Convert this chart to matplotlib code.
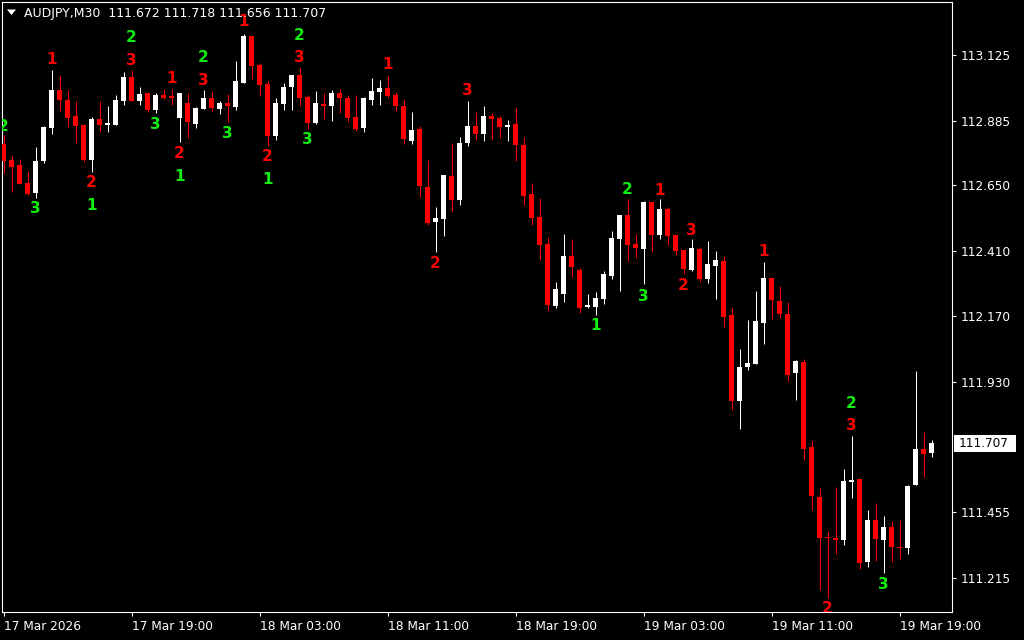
import numpy as np
import matplotlib.pyplot as plt
from matplotlib.patches import Rectangle, Polygon
from matplotlib.transforms import IdentityTransform

# AUDJPY M30, 117 bars
opens = [112.799, 112.741, 112.722, 112.657, 112.621, 112.738, 112.859, 112.996, 112.960, 112.901,
         112.869, 112.741, 112.890, 112.869, 112.869, 112.956, 113.044, 112.956, 112.985, 112.923,
         112.978, 112.974, 112.895, 112.949, 112.873, 112.928, 112.967, 112.927, 112.949, 112.934,
         113.022, 113.194, 113.088, 113.018, 112.828, 112.945, 113.007, 113.051, 112.971, 112.876,
         112.945, 112.938, 112.985, 112.967, 112.898, 112.858, 112.960, 112.989, 113.004, 112.978,
         112.938, 112.810, 112.854, 112.642, 112.514, 112.525, 112.682, 112.595, 112.803, 112.865,
         112.836, 112.901, 112.894, 112.862, 112.872, 112.795, 112.617, 112.533, 112.434, 112.207,
         112.251, 112.390, 112.339, 112.204, 112.204, 112.233, 112.317, 112.452, 112.540, 112.434,
         112.416, 112.587, 112.467, 112.562, 112.467, 112.412, 112.339, 112.416, 112.306, 112.354,
         112.372, 112.175, 111.861, 111.985, 111.996, 112.145, 112.310, 112.226, 112.178, 111.963,
         112.003, 111.693, 111.510, 111.364, 111.360, 111.353, 111.565, 111.576, 111.273, 111.426,
         111.353, 111.400, 111.327, 111.324, 111.554, 111.685, 111.672]
highs = [112.832, 112.755, 112.744, 112.701, 112.788, 112.865, 113.069, 113.047, 112.996, 112.956,
         112.872, 112.898, 112.956, 112.938, 112.978, 113.062, 113.069, 113.007, 112.985, 112.985,
         113.000, 113.000, 112.985, 112.985, 112.934, 112.996, 112.993, 112.956, 112.982, 113.102,
         113.201, 113.194, 113.094, 113.029, 112.967, 113.022, 113.051, 113.077, 112.978, 112.993,
         112.985, 112.996, 113.000, 112.978, 112.978, 112.971, 113.040, 113.033, 113.047, 112.989,
         112.960, 112.916, 112.865, 112.741, 112.569, 112.686, 112.803, 112.825, 112.956, 112.916,
         112.938, 112.912, 112.901, 112.887, 112.931, 112.825, 112.657, 112.602, 112.460, 112.295,
         112.470, 112.452, 112.346, 112.251, 112.259, 112.335, 112.481, 112.540, 112.598, 112.470,
         112.591, 112.587, 112.598, 112.569, 112.467, 112.412, 112.452, 112.423, 112.445, 112.408,
         112.390, 112.200, 112.050, 112.156, 112.262, 112.368, 112.310, 112.280, 112.222, 112.010,
         112.014, 111.718, 111.543, 111.386, 111.546, 111.612, 111.733, 111.576, 111.463, 111.488,
         111.441, 111.422, 111.426, 111.554, 111.970, 111.747, 111.718]
lows = [112.694, 112.625, 112.653, 112.613, 112.603, 112.731, 112.837, 112.921, 112.862, 112.804,
        112.734, 112.698, 112.844, 112.844, 112.869, 112.942, 112.956, 112.942, 112.916, 112.912,
        112.963, 112.942, 112.808, 112.822, 112.859, 112.928, 112.920, 112.909, 112.881, 112.923,
        113.022, 113.037, 112.974, 112.792, 112.814, 112.923, 112.923, 112.938, 112.854, 112.872,
        112.890, 112.883, 112.912, 112.879, 112.847, 112.843, 112.942, 112.942, 112.967, 112.920,
        112.799, 112.799, 112.606, 112.503, 112.405, 112.463, 112.554, 112.576, 112.792, 112.814,
        112.810, 112.817, 112.821, 112.810, 112.737, 112.576, 112.503, 112.376, 112.189, 112.200,
        112.222, 112.313, 112.182, 112.200, 112.175, 112.215, 112.306, 112.262, 112.372, 112.383,
        112.288, 112.405, 112.452, 112.430, 112.394, 112.324, 112.335, 112.295, 112.291, 112.233,
        112.131, 111.828, 111.758, 111.974, 111.996, 112.069, 112.160, 112.164, 111.934, 111.864,
        111.645, 111.463, 111.170, 111.141, 111.302, 111.335, 111.506, 111.247, 111.254, 111.276,
        111.232, 111.273, 111.284, 111.302, 111.554, 111.583, 111.656]
closes = [112.738, 112.716, 112.654, 112.618, 112.737, 112.860, 112.996, 112.960, 112.895, 112.866,
          112.741, 112.890, 112.869, 112.875, 112.960, 113.044, 112.956, 112.982, 112.923, 112.978,
          112.968, 112.967, 112.985, 112.881, 112.931, 112.967, 112.931, 112.949, 112.938, 113.029,
          113.194, 113.085, 113.015, 112.828, 112.949, 113.007, 113.051, 112.967, 112.876, 112.949,
          112.938, 112.985, 112.967, 112.894, 112.854, 112.967, 112.993, 113.004, 112.974, 112.938,
          112.817, 112.850, 112.646, 112.511, 112.529, 112.686, 112.595, 112.803, 112.865, 112.836,
          112.901, 112.890, 112.861, 112.869, 112.795, 112.609, 112.529, 112.430, 112.211, 112.270,
          112.390, 112.350, 112.200, 112.211, 112.237, 112.324, 112.456, 112.540, 112.430, 112.419,
          112.587, 112.467, 112.562, 112.463, 112.408, 112.343, 112.419, 112.306, 112.361, 112.376,
          112.167, 111.861, 111.985, 111.999, 112.153, 112.310, 112.229, 112.178, 111.955, 112.007,
          111.685, 111.514, 111.360, 111.360, 111.353, 111.568, 111.572, 111.269, 111.426, 111.357,
          111.400, 111.327, 111.324, 111.550, 111.685, 111.667, 111.707]

# indicator numbers (bar index, price, text, colour)
sig_bar = [0, 4, 6, 11, 11, 16, 16, 19, 21, 22, 22, 25, 25, 28, 30, 33, 33, 37, 37, 38,
           48, 54, 58, 74, 78, 80, 82, 85, 86, 95, 103, 106, 106, 110]
sig_price = [112.865, 112.562, 113.108, 112.657, 112.576, 113.189, 113.106, 112.872, 113.039, 112.765,
             112.682, 113.116, 113.030, 112.838, 113.245, 112.753, 112.668, 113.197, 113.116, 112.814,
             113.088, 112.363, 112.996, 112.138, 112.633, 112.244, 112.631, 112.281, 112.485, 112.406,
             111.103, 111.852, 111.773, 111.189]
sig_text = ['2', '3', '1', '2', '1', '2', '3', '3', '1', '2', '1', '2', '3', '3', '1', '2', '1', '2', '3', '3',
            '1', '2', '3', '1', '2', '3', '1', '2', '3', '1', '2', '2', '3', '3']
sig_color = ['g', 'g', 'r', 'r', 'g', 'g', 'r', 'g', 'r', 'r', 'g', 'g', 'r', 'g', 'r', 'r', 'g', 'g', 'r', 'g',
             'r', 'r', 'r', 'g', 'g', 'g', 'r', 'r', 'r', 'r', 'r', 'g', 'r', 'g']

time_pos = [0, 16, 32, 48, 64, 80, 96, 112]
time_labels = ["17 Mar 2026", "17 Mar 19:00", "18 Mar 03:00", "18 Mar 11:00",
               "18 Mar 19:00", "19 Mar 03:00", "19 Mar 11:00", "19 Mar 19:00"]
price_ticks = [113.125, 112.885, 112.650, 112.410, 112.170, 111.930, 111.455, 111.215]

o = np.array(opens)
h = np.array(highs)
l = np.array(lows)
c = np.array(closes)
x = np.arange(len(o))
cols = np.where(c >= o, 'white', '#ff0000')

W, H = 1024, 640
fig = plt.figure(figsize=(W / 100, H / 100), dpi=100, facecolor='black')
ax = fig.add_axes([2 / W, 28 / H, 950 / W, 610 / H])
ax.set_facecolor('black')

ax.vlines(x, l, h, colors=cols, lw=0.75, zorder=2)
body_lo = np.minimum(o, c)
body_h = np.maximum(np.abs(c - o), 0.004)
ax.bar(x, body_h, bottom=body_lo, width=0.62, color=cols, linewidth=0, zorder=3)

gmap = {'g': '#11ee11', 'r': '#ff0000'}
for b, p, t, k in zip(sig_bar, sig_price, sig_text, sig_color):
    ax.text(b, p, t, color=gmap[k], fontsize=11, fontweight='bold', family='DejaVu Sans',
            ha='center', va='center', zorder=4, clip_on=True)

ax.set_xlim(-0.1875, 118.5625)
ax.set_ylim(111.090, 113.318)

for s in ax.spines.values():
    s.set_color('white')
    s.set_linewidth(0.8)

ax.yaxis.tick_right()
ax.set_yticks(price_ticks)
ax.set_yticklabels(['%.3f' % v for v in price_ticks])
ax.set_xticks(time_pos)
ax.set_xticklabels(time_labels, ha='left')
ax.tick_params(colors='white', labelcolor='white', labelsize=8.7, length=3, width=0.8, pad=3)

# current price box on the scale
fig.canvas.draw()
yp = ax.transData.transform((0, c[-1]))[1]
fig.patches.append(Rectangle((954, yp - 8.5), 62, 17, transform=IdentityTransform(),
                             facecolor='white', edgecolor='none', zorder=5))
fig.text(959, yp, '%.3f' % c[-1], transform=IdentityTransform(), color='black',
         fontsize=8.7, va='center', ha='left', zorder=6)

# header
fig.patches.append(Polygon([(7, H - 9.5), (16, H - 9.5), (11.5, H - 15)], closed=True,
                           transform=IdentityTransform(), facecolor='white', edgecolor='none'))
fig.text(24, H - 13, "AUDJPY,M30  %.3f %.3f %.3f %.3f" % (o[-1], h[-1], l[-1], c[-1]),
         transform=IdentityTransform(), color='white', fontsize=9, va='center', ha='left', zorder=6)

plt.savefig("out.png", dpi=100, facecolor='black')
